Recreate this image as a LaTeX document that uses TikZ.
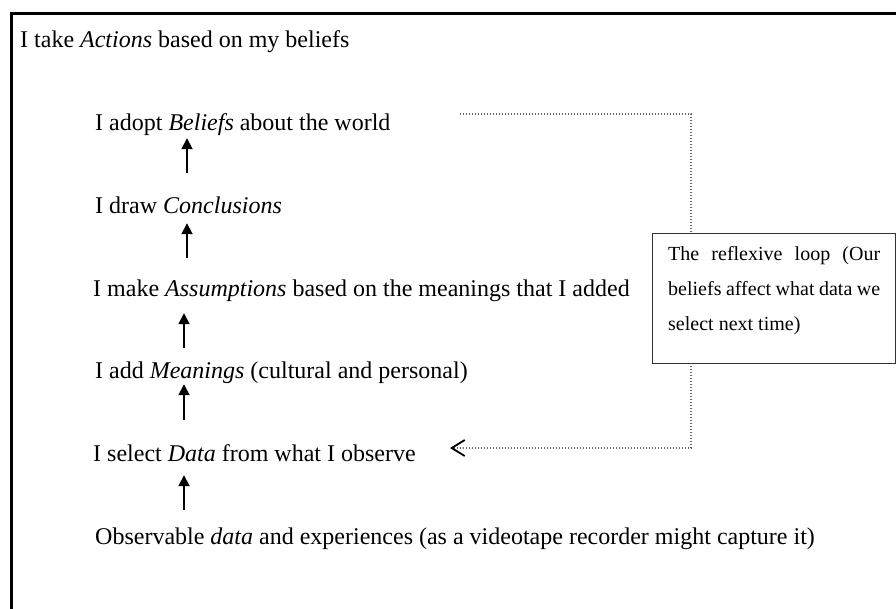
\documentclass[tikz,border=0pt]{standalone}
\usepackage{fontspec}
\setmainfont{Liberation Serif}
\usetikzlibrary{arrows.meta}
\begin{document}
\begin{tikzpicture}[x=1pt,y=-1pt,
  txt/.style={font=\fontsize{24}{28}\selectfont, anchor=base west, inner sep=0pt, text height=17pt, text depth=6pt},
  uparrow/.style={line width=1.8pt, -{Triangle[length=11pt,width=11pt]}},
  loopline/.style={black!60, line width=1.3pt, dash pattern=on 1.2pt off 1.8pt},
  note/.style={font=\fontsize{20}{24}\selectfont, anchor=base west, inner sep=0pt},
  notebox/.style={draw=black!80, line width=1.3pt, fill=white, anchor=north west, inner sep=0pt}]
\useasboundingbox (0,0) rectangle (896,608);
\fill[white] (0,0) rectangle (896,608);
% outer frame (open to the right and bottom)
\draw[line width=3pt] (11,640) -- (11,13.5) -- (930,13.5);
% ladder texts
\node[txt] (act) at (20,47) {I take \emph{Actions} based on my beliefs};
\node[txt] (bel) at (95,130) {I adopt \emph{Beliefs} about the world};
\node[txt] (con) at (95,213) {I draw \emph{Conclusions}};
\node[txt] (ass) at (93,296) {I make \emph{Assumptions} based on the meanings that I added};
\node[txt] (mea) at (95,378) {I add \emph{Meanings} (cultural and personal)};
\node[txt] (dat) at (93,461) {I select \emph{Data} from what I observe};
\node[txt] (obs) at (95,544) {Observable \emph{data} and experiences (as a videotape recorder might capture it)};
% arrows
\coordinate (axa) at (187,0);
\coordinate (axb) at (184,0);
\draw[uparrow, shorten <=23pt, shorten >=2pt] (axa |- con.north) -- (axa |- bel.south);
\draw[uparrow, shorten <=21pt, shorten >=4pt] (axa |- ass.north) -- (axa |- con.south);
\draw[uparrow, shorten <=13pt, shorten >=11pt] (axb |- mea.north) -- (axb |- ass.south);
\draw[uparrow, shorten <=24pt, shorten >=0pt] (axb |- dat.north) -- (axb |- mea.south);
\draw[uparrow, shorten <=17pt, shorten >=8pt] (axb |- obs.north) -- (axb |- dat.south);
% reflexive loop
\coordinate (ls) at (460,114);
\coordinate (lc1) at (691,114);
\coordinate (lc2) at (691,448);
\coordinate (le) at (450,448);
\draw[loopline, -{Straight Barb[length=13pt,width=16pt,line width=1.8pt,color=black]}] (ls) -- (lc1) -- (lc2) -- (le);
\node[notebox, minimum width=243pt, minimum height=130pt] (box) at (652,233) {};
\node[note] (n1) at (668,260) {\makebox[212pt][s]{The reflexive loop (Our}};
\node[note] (n2) at (668,295) {\makebox[212pt][s]{beliefs affect what data we}};
\node[note] (n3) at (668,330) {select next time)};
\end{tikzpicture}
\end{document}
